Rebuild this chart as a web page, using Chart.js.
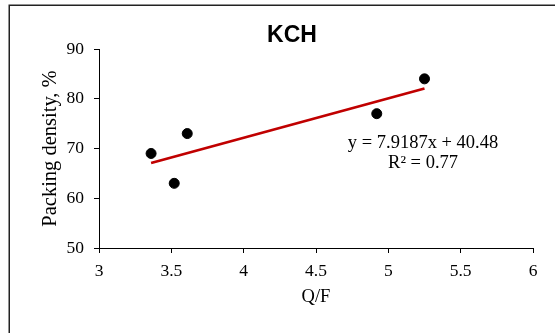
<!DOCTYPE html>
<html>
<head>
<meta charset="utf-8">
<title>KCH</title>
<script src="https://cdn.jsdelivr.net/npm/chart.js@4.4.1/dist/chart.umd.min.js"></script>
<style>
    html, body { margin: 0; padding: 0; background: #fff; }
    #wrap { width: 555px; height: 333px; }
</style>
</head>
<body>
<div id="wrap"><canvas id="kchChart" width="555" height="333"></canvas></div>
<script>
// Q/F vs packing density, KCH samples
const qfRatio = [3.36, 3.52, 3.61, 4.92, 5.25];
const packingDensity = [69, 63, 73, 77, 84];

// linear fit reported for the series
const trendSlope = 7.9187;
const trendIntercept = 40.48;
const trendR2 = 0.77;

const xTicks = [3, 3.5, 4, 4.5, 5, 5.5, 6];
const yTicks = [50, 60, 70, 80, 90];

const SERIF = '"Liberation Serif", "Times New Roman", serif';
const SANS = '"Liberation Sans", Arial, sans-serif';

// fit line spans the observed x range
const trendX = [Math.min(...qfRatio), Math.max(...qfRatio)];
const trendPoints = trendX.map(x => ({ x, y: trendSlope * x + trendIntercept }));

// outer frame, title and equation label
const decorPlugin = {
    id: 'decor',
    beforeDraw(chart) {
        const ctx = chart.ctx;
        ctx.save();
        ctx.fillStyle = '#fff';
        ctx.fillRect(0, 0, chart.width, chart.height);
        ctx.strokeStyle = '#222';
        ctx.lineWidth = 1.5;
        ctx.beginPath();
        ctx.moveTo(9.25, chart.height);
        ctx.lineTo(9.25, 5.25);
        ctx.lineTo(chart.width, 5.25);
        ctx.stroke();
        ctx.restore();
    },
    afterDatasetsDraw(chart) {
        const ctx = chart.ctx;
        const { x, y } = chart.scales;
        ctx.save();
        ctx.fillStyle = '#000';
        ctx.textAlign = 'center';
        ctx.textBaseline = 'middle';
        ctx.font = 'bold 23px ' + SANS;
        ctx.fillText('KCH', 292, 36);

        const ex = x.getPixelForValue(5.24);
        const ey = y.getPixelForValue(71.4) + 2;
        ctx.font = '18.5px ' + SERIF;
        ctx.fillText(`y = ${trendSlope}x + ${trendIntercept}`, ex, ey);
        ctx.fillText(`R² = ${trendR2}`, ex, ey + 20);
        ctx.restore();
    }
};

new Chart(document.getElementById('kchChart'), {
    type: 'scatter',
    data: {
        datasets: [
            {
                type: 'line',
                label: 'Linear fit',
                data: trendPoints,
                borderColor: '#c00000',
                borderWidth: 2.75,
                pointRadius: 0,
                fill: false
            },
            {
                label: 'KCH',
                data: qfRatio.map((q, i) => ({ x: q, y: packingDensity[i] })),
                backgroundColor: '#000',
                borderColor: '#000',
                pointRadius: 5,
                pointHoverRadius: 5
            }
        ]
    },
    options: {
        responsive: false,
        animation: false,
        layout: { padding: { top: 49, right: 22, left: 0, bottom: 0 } },
        plugins: {
            legend: { display: false },
            tooltip: { enabled: false }
        },
        scales: {
            x: {
                type: 'linear',
                min: 3, max: 6,
                afterBuildTicks: s => { s.ticks = xTicks.map(v => ({ value: v })); },
                afterFit: s => { s.height = 85; },
                border: { display: true, color: '#000', width: 1 },
                grid: { display: true, drawOnChartArea: false, color: '#000', tickLength: 5 },
                ticks: {
                    color: '#000', padding: 8, maxRotation: 0,
                    font: { family: SERIF, size: 17.5 },
                    callback: v => String(v)
                },
                title: {
                    display: true, text: 'Q/F', color: '#000',
                    font: { family: SERIF, size: 18.5 },
                    padding: { top: 0, bottom: 25 }
                }
            },
            y: {
                type: 'linear',
                min: 50, max: 90,
                afterBuildTicks: s => { s.ticks = yTicks.map(v => ({ value: v })); },
                afterFit: s => { s.width = 99; },
                border: { display: true, color: '#000', width: 1 },
                grid: { display: true, drawOnChartArea: false, color: '#000', tickLength: 5 },
                ticks: {
                    color: '#000', padding: 10,
                    font: { family: SERIF, size: 17.5 },
                    callback: v => String(v)
                },
                title: {
                    display: true, text: 'Packing density, %', color: '#000',
                    font: { family: SERIF, size: 20.5 },
                    padding: { top: 38, bottom: 0 }
                }
            }
        }
    },
    plugins: [decorPlugin]
});
</script>
</body>
</html>
